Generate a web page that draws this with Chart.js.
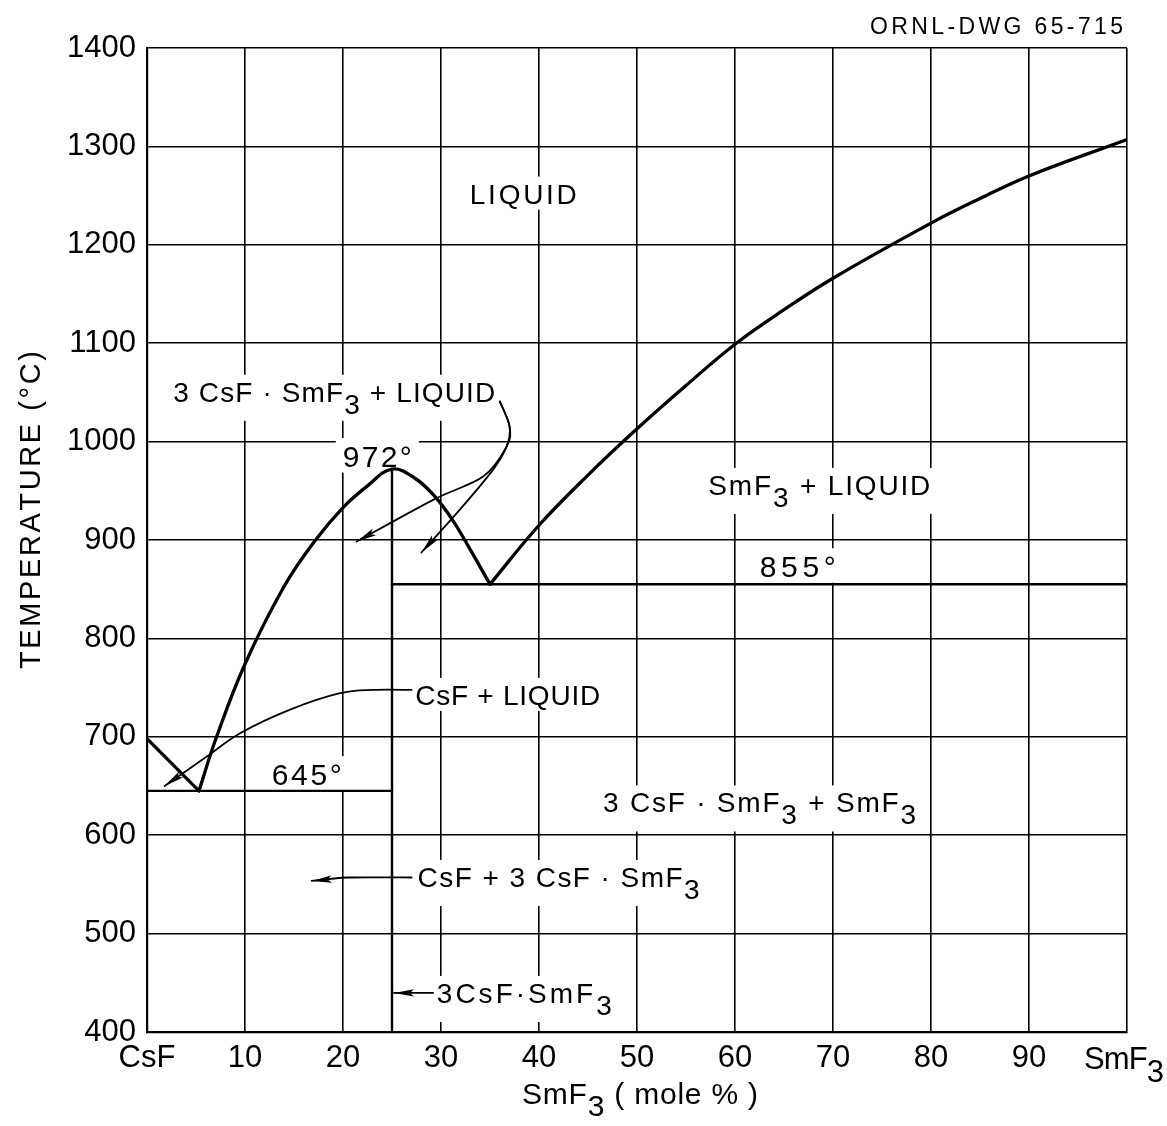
<!DOCTYPE html>
<html>
<head>
<meta charset="utf-8">
<title>CsF–SmF3 phase diagram</title>
<script src="https://cdn.jsdelivr.net/npm/chart.js@4.4.1/dist/chart.umd.min.js"></script>
<style>
  html, body { margin: 0; padding: 0; background: #fff; }
  #wrap { width: 1167px; height: 1126px; }
</style>
</head>
<body>
<div id="wrap"><canvas id="phaseChart" width="1167" height="1126"></canvas></div>
<script>
// CsF - SmF3 phase diagram

const FONT = '"Liberation Sans", Arial, sans-serif';
const INK = '#000';

// Axes: composition in mole % SmF3, temperature in deg C
const xTicks = [0, 10, 20, 30, 40, 50, 60, 70, 80, 90, 100];
const xTickLabels = ['CsF', '10', '20', '30', '40', '50', '60', '70', '80', '90', 'SmF3'];
const yTicks = [400, 500, 600, 700, 800, 900, 1000, 1100, 1200, 1300, 1400];

// CsF liquidus, down to the CsF / 3CsF.SmF3 eutectic
const csfLiquidusX = [0, 5.3];
const csfLiquidusT = [698, 645];

// 3CsF.SmF3 liquidus, congruent maximum at 25 %
const compoundLiquidusX = [5.3, 7.1, 10, 14, 17.2, 20, 22.5, 25, 27.3, 29.3, 31.2, 33, 35];
const compoundLiquidusT = [645, 700, 774, 853, 900, 933, 955, 972, 963, 945, 920, 890, 855];

// SmF3 liquidus
const smf3LiquidusX = [35, 40, 45, 50, 55, 60, 65, 70, 80, 85, 90, 100];
const smf3LiquidusT = [855, 915, 966, 1013, 1057, 1099, 1134, 1166, 1222, 1247, 1270, 1307];

// Eutectic horizontals and the compound line
const lowEutecticX = [0, 25];
const lowEutecticT = [645, 645];
const highEutecticX = [25, 100];
const highEutecticT = [855, 855];
const compoundLineX = [25, 25];
const compoundLineT = [400, 972];

// Field labels: text runs ([text, subscript]), centre in data units, width in px
const fieldLabels = [
    { parts: [['LIQUID']], x: 38.4, t: 1252, width: 107, size: 28 },
    { parts: [['3 CsF · SmF'], ['3', true], [' + LIQUID']], x: 19.1, t: 1050.6, width: 322, size: 28 },
    { parts: [['972°']], x: 23.5, t: 985.5, width: 69, size: 30 },
    { parts: [['SmF'], ['3', true], [' + LIQUID']], x: 68.6, t: 956, width: 222, size: 28 },
    { parts: [['855°']], x: 66.4, t: 873.6, width: 76, size: 30 },
    { parts: [['CsF + LIQUID']], x: 36.8, t: 742.6, width: 185, size: 28 },
    { parts: [['645°']], x: 16.3, t: 662.3, width: 70, size: 30 },
    { parts: [['3 CsF · SmF'], ['3', true], [' + SmF'], ['3', true]], x: 62.5, t: 633.3, width: 313, size: 28 },
    { parts: [['CsF + 3 CsF · SmF'], ['3', true]], x: 42.0, t: 557.6, width: 282, size: 28 },
    { parts: [['3CsF·SmF'], ['3', true]], x: 38.5, t: 439.7, width: 175, size: 28 }
];

// Leader arrows, from label to field, in data units
const arrows = [
    [[36.0, 1040.7], [37.0, 1015.3], [36.7, 995], [34.3, 964.5], [29.2, 940.8], [21.4, 898.4]],
    [[36.0, 1040.7], [37.0, 1015.3], [36.7, 995], [35.3, 971.3], [31.9, 930.6], [28.0, 887.3]],
    [[27.0, 747.7], [23.1, 747.7], [19.7, 744.3], [14.6, 727.6], [9.5, 703.6], [6.1, 679.9], [1.8, 650.0]],
    [[27.0, 557.0], [20.5, 557.0], [16.8, 553.5]],
    [[29.2, 439.7], [25.2, 439.7]]
];

const toPoints = (xs, ts) => xs.map((x, i) => ({ x: x, y: ts[i] }));

function curve(xs, ts, width, tension) {
    return {
        data: toPoints(xs, ts),
        showLine: true,
        borderColor: INK,
        borderWidth: width,
        pointRadius: 0,
        borderCapStyle: 'round',
        borderJoinStyle: 'round',
        tension: tension
    };
}

// Lay out a run of characters so it spans a given width
function layoutRun(ctx, parts, size, width) {
    ctx.font = size + 'px ' + FONT;
    const chars = [];
    parts.forEach(([text, sub]) => {
        for (const ch of text) chars.push({ ch: ch, sub: !!sub, w: ctx.measureText(ch).width });
    });
    const natural = chars.reduce((s, c) => s + c.w, 0);
    const gap = width && chars.length > 1 ? (width - natural) / (chars.length - 1) : 0;
    return { chars: chars, gap: gap, width: width || natural, hasSub: chars.some(c => c.sub) };
}

function drawRun(ctx, parts, cx, cy, size, width, align, angle) {
    const lay = layoutRun(ctx, parts, size, width);
    const cap = size * 0.716;
    ctx.save();
    ctx.translate(cx, cy);
    if (angle) ctx.rotate(angle);
    ctx.fillStyle = INK;
    ctx.textBaseline = 'alphabetic';
    ctx.textAlign = 'left';
    let x = align === 'right' ? -lay.width : align === 'left' ? 0 : -lay.width / 2;
    lay.chars.forEach(c => {
        ctx.fillText(c.ch, x, cap / 2 + (c.sub ? size * 0.42 : 0));
        x += c.w + lay.gap;
    });
    ctx.restore();
}

function smoothPath(ctx, pts) {
    ctx.moveTo(pts[0][0], pts[0][1]);
    for (let i = 0; i < pts.length - 1; i++) {
        const p0 = pts[i - 1] || pts[i];
        const p1 = pts[i];
        const p2 = pts[i + 1];
        const p3 = pts[i + 2] || p2;
        ctx.bezierCurveTo(
            p1[0] + (p2[0] - p0[0]) / 6, p1[1] + (p2[1] - p0[1]) / 6,
            p2[0] - (p3[0] - p1[0]) / 6, p2[1] - (p3[1] - p1[1]) / 6,
            p2[0], p2[1]);
    }
}

const phasePlugin = {
    id: 'phaseNotes',
    beforeDatasetsDraw(chart) {
        // knock the grid out behind every field label
        const { ctx, scales: { x, y } } = chart;
        ctx.save();
        ctx.fillStyle = '#fff';
        fieldLabels.forEach(l => {
            const lay = layoutRun(ctx, l.parts, l.size, l.width);
            const cx = x.getPixelForValue(l.x);
            const cy = y.getPixelForValue(l.t);
            const cap = l.size * 0.716;
            const top = cy - cap / 2 - 7;
            const bottom = cy + cap / 2 + (lay.hasSub ? 13 : 0) + 6;
            ctx.fillRect(cx - lay.width / 2 - 7, top, lay.width + 14, bottom - top);
        });
        ctx.restore();
    },
    afterDatasetsDraw(chart) {
        const { ctx, scales: { x, y } } = chart;
        fieldLabels.forEach(l => {
            drawRun(ctx, l.parts, x.getPixelForValue(l.x), y.getPixelForValue(l.t), l.size, l.width, 'center');
        });

        ctx.save();
        ctx.strokeStyle = INK;
        ctx.fillStyle = INK;
        ctx.lineWidth = 1.8;
        ctx.lineCap = 'round';
        arrows.forEach(a => {
            const pts = a.map(([v, t]) => [x.getPixelForValue(v), y.getPixelForValue(t)]);
            ctx.beginPath();
            smoothPath(ctx, pts);
            ctx.stroke();
            // slim arrowhead along the last segment
            const tip = pts[pts.length - 1];
            const prev = pts[pts.length - 2];
            const dx = tip[0] - prev[0], dy = tip[1] - prev[1];
            const d = Math.hypot(dx, dy);
            const ux = dx / d, uy = dy / d;
            const len = 20, hw = 3.6;
            ctx.beginPath();
            ctx.moveTo(tip[0], tip[1]);
            ctx.lineTo(tip[0] - ux * len - uy * hw, tip[1] - uy * len + ux * hw);
            ctx.lineTo(tip[0] - ux * len * 0.8, tip[1] - uy * len * 0.8);
            ctx.lineTo(tip[0] - ux * len + uy * hw, tip[1] - uy * len - ux * hw);
            ctx.closePath();
            ctx.fill();
        });
        ctx.restore();
    },
    afterDraw(chart) {
        const { ctx, scales: { x } } = chart;
        // end-member label with subscript
        drawRun(ctx, [['SmF'], ['3', true]], x.getPixelForValue(100) - 3, 1058, 31, 80, 'center');
        // axis titles
        drawRun(ctx, [['SmF'], ['3', true], [' ( mole % )']], 640, 1093, 30, 236, 'center');
        drawRun(ctx, [['TEMPERATURE (°C)']], 30, 510, 29, 318, 'center', -Math.PI / 2);
        // drawing number
        drawRun(ctx, [['ORNL-DWG 65-715']], 1123, 26, 23, 253, 'right');
    }
};

new Chart(document.getElementById('phaseChart'), {
    type: 'scatter',
    data: {
        datasets: [
            curve(csfLiquidusX, csfLiquidusT, 3.3, 0),
            curve(compoundLiquidusX, compoundLiquidusT, 3.3, 0.4),
            curve(smf3LiquidusX, smf3LiquidusT, 3.3, 0.4),
            curve(lowEutecticX, lowEutecticT, 2.4, 0),
            curve(highEutecticX, highEutecticT, 2.4, 0),
            curve(compoundLineX, compoundLineT, 2.4, 0)
        ]
    },
    options: {
        responsive: false,
        animation: false,
        devicePixelRatio: 1,
        layout: { padding: { top: 48, right: 40, left: 0, bottom: 0 } },
        plugins: {
            legend: { display: false },
            tooltip: { enabled: false }
        },
        scales: {
            x: {
                type: 'linear',
                min: 0,
                max: 100,
                afterBuildTicks: s => { s.ticks = xTicks.map(v => ({ value: v })); },
                afterFit: s => { s.height = 94; },
                ticks: {
                    color: INK,
                    padding: 8,
                    maxRotation: 0,
                    autoSkip: false,
                    font: { family: FONT, size: 31 },
                    callback: v => {
                        const label = xTickLabels[xTicks.indexOf(v)];
                        return label === 'SmF3' ? '' : label;
                    }
                },
                grid: { color: INK, lineWidth: 1.6, drawTicks: false },
                border: { color: INK, width: 2.2 }
            },
            y: {
                type: 'linear',
                min: 400,
                max: 1400,
                afterBuildTicks: s => { s.ticks = yTicks.map(v => ({ value: v })); },
                afterFit: s => { s.width = 147; },
                ticks: {
                    color: INK,
                    padding: 11,
                    font: { family: FONT, size: 31 },
                    callback: v => String(v)
                },
                grid: { color: INK, lineWidth: 1.6, drawTicks: false },
                border: { color: INK, width: 2.2 }
            }
        }
    },
    plugins: [phasePlugin]
});
</script>
</body>
</html>
